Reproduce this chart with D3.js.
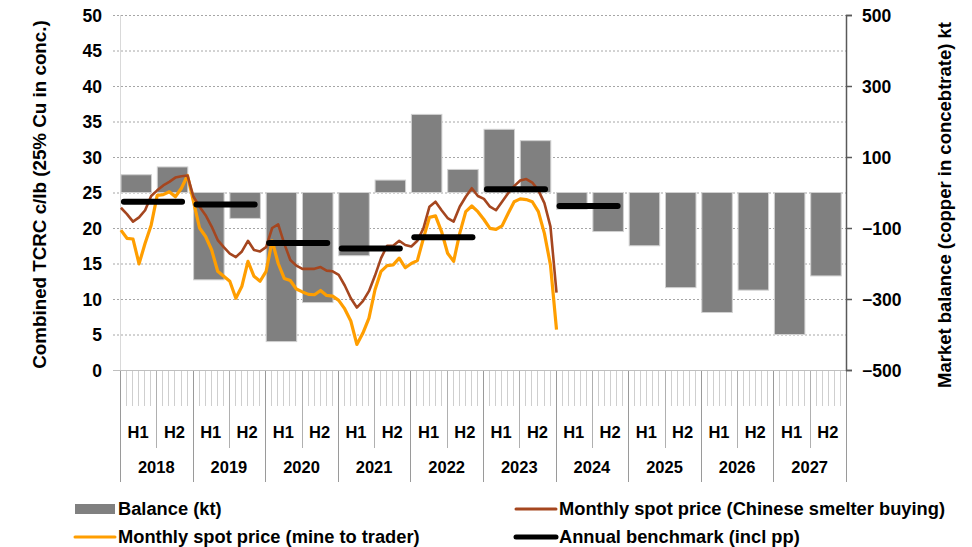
<!DOCTYPE html>
<html>
<head>
<meta charset="utf-8">
<script src="https://cdn.jsdelivr.net/npm/d3@7"></script>
<style>
  body { margin: 0; background: #fff; }
  svg text { font-family: "Liberation Sans", Arial, sans-serif; font-weight: bold; fill: #000; }
</style>
</head>
<body>
<svg id="chart" width="972" height="547"></svg>
<script>
// half-year categories
var years = [2018, 2019, 2020, 2021, 2022, 2023, 2024, 2025, 2026, 2027];
var halves = ["H1", "H2"];

// market balance, kt (right axis), one per half-year
var balanceKt = [50, 72, -246, -73, -420, -310, -178, 35, 220, 65,
                 178, 146, -47, -110, -150, -268, -338, -275, -400, -235];

// monthly spot TCRC c/lb, Jan 2018 .. Jan 2024
var chineseSmelter = [22.85, 21.96, 20.9, 21.5, 22.5, 24.5, 25.3, 26.0, 26.5, 27.1, 27.3, 27.4,
                      24.4, 23.0, 21.8, 20.2, 18.3, 17.3, 16.4, 15.9, 16.7, 18.2, 16.9, 16.7,
                      17.3, 20.0, 20.5, 17.8, 15.5, 14.7, 14.25, 14.25, 14.25, 14.5, 14.0, 13.9,
                      13.4, 11.9, 10.1, 8.8, 9.7, 11.1, 13.3, 15.75, 17.5, 17.5, 18.2, 17.6,
                      17.4, 18.2, 19.95, 23.0, 23.7, 22.5, 21.4, 20.9, 23.0, 24.4, 25.6, 24.5,
                      24.1, 23.0, 22.5, 23.7, 24.9, 25.9, 26.7, 26.9, 26.4, 25.3, 23.5, 20.2,
                      10.9];
var mineToTrader = [19.7, 18.55, 18.45, 14.95, 17.85, 20.4, 24.6, 24.7, 25.1, 24.4, 25.6, 27.4,
                    23.7, 20.0, 18.8, 16.9, 13.9, 13.2, 12.5, 10.1, 11.8, 15.3, 13.2, 12.5,
                    13.9, 18.2, 15.0, 12.9, 12.6, 11.4, 11.0, 10.65, 10.6, 11.2, 10.5, 10.4,
                    9.8, 8.6, 6.9, 3.6, 5.2, 7.3, 11.3, 13.9, 14.7, 14.8, 15.75, 14.4,
                    15.0, 15.4, 18.55, 21.5, 21.7, 19.5, 16.45, 15.3, 19.25, 22.3, 23.1, 22.3,
                    21.2, 19.95, 19.8, 20.3, 22.05, 23.7, 24.1, 24.0, 23.7, 22.3, 19.25, 14.8,
                    5.7];

// annual benchmark (incl pp), 2018 .. 2024
var benchmark = [23.7, 23.3, 17.9, 17.1, 18.7, 25.45, 23.1];

var leftTicks = [0, 5, 10, 15, 20, 25, 30, 35, 40, 45, 50];
var rightTicks = [-500, -300, -100, 100, 300, 500];

var svg = d3.select("#chart");

var plotLeft = 120, plotRight = 846, plotTop = 15, plotBottom = 370;

var yLeft = d3.scaleLinear().domain([0, 50]).range([plotBottom, plotTop]);
var yRight = d3.scaleLinear().domain([-500, 500]).range([plotBottom, plotTop]);
var xMonth = d3.scaleLinear().domain([0, years.length * 12]).range([plotLeft, plotRight]);

var cats = [];
years.forEach(function (y) {
  halves.forEach(function (h) { cats.push(y + h); });
});
var xHalf = d3.scaleBand().domain(cats).range([plotLeft, plotRight]);

// gridlines (dotted)
svg.append("g").selectAll("line")
  .data(leftTicks.filter(function (t) { return t > 0; }))
  .enter().append("line")
  .attr("x1", plotLeft - 7).attr("x2", plotRight)
  .attr("y1", function (d) { return yLeft(d) + 0.5; })
  .attr("y2", function (d) { return yLeft(d) + 0.5; })
  .attr("stroke", "#a6a6a6").attr("stroke-width", 1)
  .attr("stroke-dasharray", "2,2");

// left axis line (light)
svg.append("line")
  .attr("x1", plotLeft + 0.5).attr("x2", plotLeft + 0.5)
  .attr("y1", plotTop).attr("y2", plotBottom)
  .attr("stroke", "#d9d9d9");

// bars
svg.append("g").selectAll("rect")
  .data(balanceKt)
  .enter().append("rect")
  .attr("x", function (d, i) { return xHalf(cats[i]) + 1; })
  .attr("width", xHalf.bandwidth() * 0.84)
  .attr("y", function (d) { return Math.min(yRight(d), yRight(0)); })
  .attr("height", function (d) { return Math.abs(yRight(d) - yRight(0)); })
  .attr("fill", "#808080")
  .attr("stroke", "#d0d0d0").attr("stroke-width", 1);

// x axis: month ticks, half separators, year separators
var monthIdx = d3.range(0, years.length * 12 + 1);
svg.append("g").selectAll("line")
  .data(monthIdx)
  .enter().append("line")
  .attr("x1", function (d) { return Math.round(xMonth(d)) + 0.5; })
  .attr("x2", function (d) { return Math.round(xMonth(d)) + 0.5; })
  .attr("y1", plotBottom)
  .attr("y2", function (d) {
    if (d % 12 === 0) return 482;
    if (d % 6 === 0) return 448;
    return 406;
  })
  .attr("stroke", function (d) {
    if (d % 12 === 0) return "#9a9a9a";
    if (d % 6 === 0) return "#b0b0b0";
    return "#cfcfcf";
  });

svg.append("line")
  .attr("x1", plotLeft - 7).attr("x2", plotRight)
  .attr("y1", plotBottom + 0.5).attr("y2", plotBottom + 0.5)
  .attr("stroke", "#bfbfbf");

svg.append("g").selectAll("text")
  .data(cats)
  .enter().append("text")
  .attr("x", function (d) { return xHalf(d) + xHalf.bandwidth() / 2; })
  .attr("y", 438)
  .attr("text-anchor", "middle")
  .style("font-size", "16.5px")
  .text(function (d) { return d.slice(4); });

svg.append("g").selectAll("text")
  .data(years)
  .enter().append("text")
  .attr("x", function (d, i) { return xMonth(i * 12 + 6); })
  .attr("y", 473)
  .attr("text-anchor", "middle")
  .style("font-size", "16.5px")
  .text(function (d) { return d; });

// lines
var line = d3.line()
  .x(function (d, i) { return xMonth(i + 0.15); })
  .y(function (d) { return yLeft(d); });

svg.append("path")
  .datum(mineToTrader)
  .attr("d", line)
  .attr("fill", "none")
  .attr("stroke", "#ff9e00").attr("stroke-width", 3.2)
  .attr("stroke-linejoin", "round");

svg.append("path")
  .datum(chineseSmelter)
  .attr("d", line)
  .attr("fill", "none")
  .attr("stroke", "#a5461f").attr("stroke-width", 2.6)
  .attr("stroke-linejoin", "round");

// annual benchmark
svg.append("g").selectAll("line")
  .data(benchmark)
  .enter().append("line")
  .attr("x1", function (d, i) { return xMonth(i * 12 + 0.15) + 3; })
  .attr("x2", function (d, i) { return xMonth(i * 12 + 10.75) - 3; })
  .attr("y1", function (d) { return yLeft(d); })
  .attr("y2", function (d) { return yLeft(d); })
  .attr("stroke", "#000").attr("stroke-width", 6)
  .attr("stroke-linecap", "round");

// left tick labels
var leftAxis = d3.axisLeft(yLeft).tickValues(leftTicks).tickSize(0).tickPadding(18);
var gl = svg.append("g").attr("transform", "translate(" + plotLeft + ",0)").call(leftAxis);
gl.attr("font-family", null);
gl.select(".domain").remove();
gl.selectAll("text").style("font-size", "17.5px").attr("dy", "0.35em");

// right axis
var rightAxis = d3.axisRight(yRight).tickValues(rightTicks).tickSize(6).tickPadding(10);
var gr = svg.append("g").attr("transform", "translate(" + plotRight + ",0)").call(rightAxis);
gr.attr("font-family", null);
gr.select(".domain").attr("stroke", "#595959").attr("stroke-width", 1.5);
gr.selectAll(".tick line").attr("stroke", "#595959").attr("stroke-width", 1.5);
gr.selectAll("text").style("font-size", "17.5px").attr("dy", "0.35em");

// axis titles
svg.append("text")
  .attr("transform", "translate(46," + ((plotTop + plotBottom) / 2 + 2) + ") rotate(-90)")
  .attr("text-anchor", "middle")
  .style("font-size", "18.8px")
  .text("Combined TCRC c/lb (25% Cu in conc.)");

svg.append("text")
  .attr("transform", "translate(951,205) rotate(-90)")
  .attr("text-anchor", "middle")
  .style("font-size", "18.5px")
  .text("Market balance (copper in concebtrate) kt");

// legend
var legendItems = [
  { label: "Balance (kt)", type: "rect", color: "#808080", x: 75, y: 509 },
  { label: "Monthly spot price (Chinese smelter buying)", type: "line", color: "#a5461f", w: 3, x: 516, y: 509 },
  { label: "Monthly spot price (mine to trader)", type: "line", color: "#ff9e00", w: 3, x: 75, y: 537 },
  { label: "Annual benchmark (incl pp)", type: "line", color: "#000", w: 5, x: 516, y: 537 }
];
var lg = svg.append("g").selectAll("g").data(legendItems).enter().append("g");
lg.each(function (d) {
  var g = d3.select(this);
  if (d.type === "rect") {
    g.append("rect").attr("x", d.x).attr("y", d.y - 5).attr("width", 40).attr("height", 10)
      .attr("fill", d.color);
  } else {
    g.append("line").attr("x1", d.x).attr("x2", d.x + 40).attr("y1", d.y).attr("y2", d.y)
      .attr("stroke", d.color).attr("stroke-width", d.w).attr("stroke-linecap", "round");
  }
  g.append("text").attr("x", d.x + 43).attr("y", d.y).attr("dy", "0.35em")
    .style("font-size", "18.3px").text(d.label);
});
</script>
</body>
</html>
